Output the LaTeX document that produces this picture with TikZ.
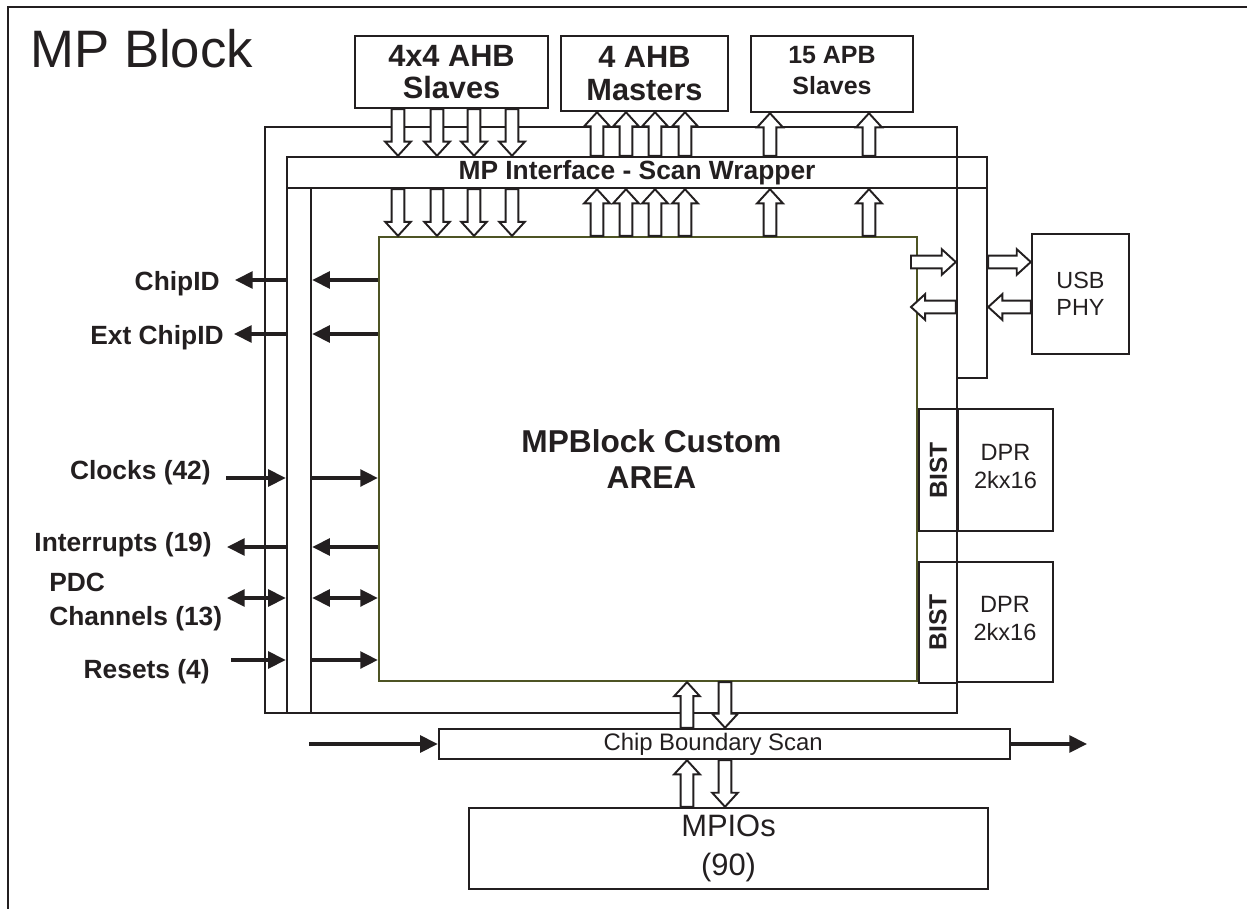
\documentclass[tikz,border=0pt]{standalone}
\usepackage{fontspec}
\setmainfont{Liberation Sans}
\usepackage{graphicx}
\usetikzlibrary{arrows.meta,fit,calc}

\definecolor{ink}{RGB}{35,31,32}
\definecolor{coreolive}{RGB}{78,84,36}

\tikzset{
  blk/.style={draw=ink, line width=1.4pt, inner sep=0pt},
  txt/.style={inner sep=0pt, align=center, text=ink},
  lbl/.style={inner sep=0pt, text=ink, font=\fontsize{15}{19}\selectfont\bfseries},
  sig/.style={draw=ink, line width=2pt, >={Triangle[length=10pt,width=9.5pt]}},
  hollow/.style={draw=ink, fill=white, line width=1.1pt, line join=miter,
    to path={let \p1=(\tikztostart), \p2=(\tikztotarget),
      \n1={veclen(\x2-\x1,\y2-\y1)}, \n2={(\x2-\x1)/\n1}, \n3={(\y2-\y1)/\n1} in
      ({\x1-3.6*\n3},{\y1+3.6*\n2}) -- ({\x2-8*\n2-3.6*\n3},{\y2-8*\n3+3.6*\n2})
      -- ({\x2-8*\n2-7.3*\n3},{\y2-8*\n3+7.3*\n2}) -- (\p2)
      -- ({\x2-8*\n2+7.3*\n3},{\y2-8*\n3-7.3*\n2}) -- ({\x2-8*\n2+3.6*\n3},{\y2-8*\n3-3.6*\n2})
      -- ({\x1+3.6*\n3},{\y1-3.6*\n2}) -- cycle}}
}
% hollow bus arrow between two points
\newcommand{\busarrow}[2]{%
  \coordinate (bus-from) at (#1);
  \coordinate (bus-to) at (#2);
  \draw[hollow] (bus-from) to (bus-to);}

\begin{document}
\begin{tikzpicture}[x=0.02cm, y=-0.02cm]
\useasboundingbox (0,0) rectangle (1247,909);
\draw[ink, line width=1.4pt] (8,909) -- (8,7) -- (1247,7);
\node[anchor=base west, inner sep=0pt, text=ink, font=\fontsize{30}{36}\selectfont] (title) at (30,68) {MP Block};

% bus ports
\node[blk, fit={(355,36) (548,108)}] (ahbs) {};
\node[blk, fit={(561,36) (728,111)}] (ahbm) {};
\node[blk, fit={(751,36) (913,112)}] (apbs) {};
\node[txt, font=\fontsize{17.5}{18.5}\selectfont\bfseries] (ahbs-t) at (ahbs.center) {4x4 AHB\\Slaves};
\node[txt, font=\fontsize{17.5}{18.5}\selectfont\bfseries] (ahbm-t) at (ahbm.center) {4 AHB\\Masters};
\node[txt, font=\fontsize{14.2}{18}\selectfont\bfseries] (apbs-t) at ([yshift=2pt]apbs.center) {15 APB\\Slaves};

% scan wrapper
\node[blk, fit={(265,127) (957,713)}] (wrap) {};
\node[blk, fit={(287,157) (987,188)}] (bar) {};
\node[txt, font=\fontsize{15}{18}\selectfont\bfseries] (bar-t) at (bar.center) {MP Interface - Scan Wrapper};
\node[blk, fit={(957,188) (987,378)}] (rstrip) {};
\node[blk, fit={(287,188) (311,713)}] (lstrip) {};
\node[blk, draw=coreolive, line width=1.3pt, fit={(379,237) (917,681)}] (core) {};
\node[txt, font=\fontsize{18}{21}\selectfont\bfseries] (core-t) at ([xshift=2pt]core.center) {MPBlock Custom\\AREA};

\node[blk, fit={(1032,234) (1129,354)}] (usb) {};
\node[txt, font=\fontsize{13.3}{15.4}\selectfont] (usb-t) at (usb.center) {USB\\PHY};
\node[blk, fit={(919,409) (958,531)}] (bist1) {};
\node[blk, fit={(958,409) (1053,531)}] (dpr1) {};
\node[blk, fit={(919,562) (957,683)}] (bist2) {};
\node[blk, fit={(957,562) (1053,682)}] (dpr2) {};
\foreach \b in {bist1,bist2} {
  \node[txt, font=\fontsize{14}{16}\selectfont\bfseries, rotate=90] (\b-t) at (\b.center) {BIST};
}
\foreach \d in {dpr1,dpr2} {
  \node[txt, font=\fontsize{13.4}{16}\selectfont] (\d-t) at ([yshift=2pt]\d.center) {DPR\\2kx16};
}

\node[blk, fit={(439,729) (1010,759)}] (bscan) {};
\node[txt, font=\fontsize{13.6}{16}\selectfont] (bscan-t) at ([xshift=-6.5pt]bscan.center) {Chip Boundary Scan};
\node[blk, fit={(469,808) (988,889)}] (mpio) {};
\node[txt, font=\fontsize{17.6}{22}\selectfont] (mpio-t) at (mpio.center) {MPIOs\\(90)};

% side signals
\coordinate (cidend) at (235,280);
\node[lbl, anchor=base east] (cid) at (220,290.5) {ChipID};
\draw[sig,->] (lstrip.west |- cidend) -- (cidend);
\draw[sig,->] (core.west |- cidend) -- (lstrip.east |- cidend);

\coordinate (xcidend) at (234,334);
\node[lbl, anchor=base east] (xcid) at (224,344.5) {Ext ChipID};
\draw[sig,->] (lstrip.west |- xcidend) -- (xcidend);
\draw[sig,->] (core.west |- xcidend) -- (lstrip.east |- xcidend);

\coordinate (clkend) at (226,478);
\node[lbl, anchor=base east] (clk) at (211,479.5) {Clocks (42)};
\draw[sig,->] (clkend) -- (lstrip.west |- clkend);
\draw[sig,->] (lstrip.east |- clkend) -- (core.west |- clkend);

\coordinate (irqend) at (227,547);
\node[lbl, anchor=base east] (irq) at (212,551.5) {Interrupts (19)};
\draw[sig,->] (lstrip.west |- irqend) -- (irqend);
\draw[sig,->] (core.west |- irqend) -- (lstrip.east |- irqend);

\coordinate (pdcend) at (227,598);
\node[lbl, anchor=west, align=left] (pdc) at (49,602) {PDC\\Channels (13)};
\draw[sig,<->] (pdcend) -- (lstrip.west |- pdcend);
\draw[sig,<->] (lstrip.east |- pdcend) -- (core.west |- pdcend);

\coordinate (rstend) at (231,660);
\node[lbl, anchor=base east] (rst) at (210,678.5) {Resets (4)};
\draw[sig,->] (rstend) -- (lstrip.west |- rstend);
\draw[sig,->] (lstrip.east |- rstend) -- (core.west |- rstend);

\coordinate (scanin) at (309,744);
\coordinate (scanout) at (1087,744);
\draw[sig,->] (scanin) -- (scanin -| bscan.west);
\draw[sig,->] (scanout -| bscan.east) -- (scanout);

% bus arrows
\foreach \x in {398,437,474,512} {
  \busarrow{\x,0 |- ahbs.south}{\x,0 |- bar.north}
  \busarrow{\x,0 |- bar.south}{\x,0 |- core.north}
}
\foreach \x in {597,626,655,685} {
  \busarrow{\x,0 |- bar.north}{\x,0 |- ahbm.south}
  \busarrow{\x,0 |- core.north}{\x,0 |- bar.south}
}
\foreach \x in {770,869} {
  \busarrow{\x,0 |- bar.north}{\x,0 |- apbs.south}
  \busarrow{\x,0 |- core.north}{\x,0 |- bar.south}
}

\coordinate (usbtx) at (911,262);
\coordinate (usbrx) at (911,307);
\busarrow{usbtx}{rstrip.west |- usbtx}
\busarrow{rstrip.west |- usbrx}{usbrx}
\busarrow{rstrip.east |- usbtx}{usb.west |- usbtx}
\busarrow{usb.west |- usbrx}{rstrip.east |- usbrx}

\busarrow{687,0 |- bscan.north}{687,0 |- core.south}
\busarrow{725,0 |- core.south}{725,0 |- bscan.north}
\busarrow{687,0 |- mpio.north}{687,0 |- bscan.south}
\busarrow{725,0 |- bscan.south}{725,0 |- mpio.north}
\end{tikzpicture}
\end{document}
